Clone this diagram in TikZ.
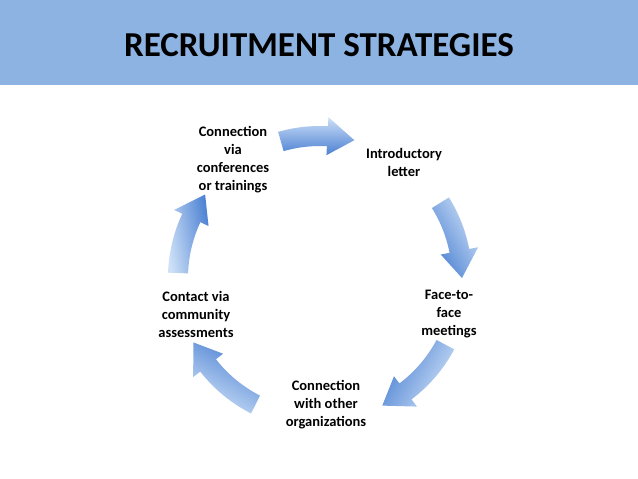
\documentclass[tikz,border=0pt]{standalone}
\usepackage{fontspec}
\setmainfont{Carlito}
\definecolor{lightb}{RGB}{205,224,247}
\definecolor{darkb}{RGB}{75,128,210}
\begin{document}
\begin{tikzpicture}[x=1pt,y=1pt,
  lbl/.style={font=\bfseries\fontsize{14.5}{18}\selectfont,align=center,text=black},
  barr/.style={left color=lightb,right color=darkb,draw=none}]
\useasboundingbox (0,0) rectangle (638,479);
\fill[white] (0,0) rectangle (638,479);
\fill[fill={rgb,255:red,141;green,179;blue,226}] (0,394) rectangle (638,479);
\node (title) at (319,434) {\bfseries\fontsize{35}{40}\selectfont RECRUITMENT STRATEGIES};
\coordinate (c) at (320,201);
\node[lbl] (n1) at (233,319) {Connection\\via\\conferences\\or trainings};
\node[lbl] (n2) at (404,317) {Introductory\\letter};
\node[lbl] (n3) at (449,165) {Face-to-\\face\\meetings};
\node[lbl] (n4) at (326,74) {Connection\\with other\\organizations};
\node[lbl] (n5) at (196,165) {Contact via\\community\\assessments};
\foreach \a/\b/\ang in {106/76/0, 32/0/-60, -28/-64/-120, -117/-153/150, 178/144/100}{
  \pgfmathsetmacro{\h}{\b+11}
  \path[barr,shading angle=\ang]
    ([shift={(c)}]\a:152) arc[start angle=\a,end angle=\h,radius=152]
    -- ([shift={(c)}]\h:161) -- ([shift={(c)}]\b:142) -- ([shift={(c)}]\h:123)
    -- ([shift={(c)}]\h:132) arc[start angle=\h,end angle=\a,radius=132] -- cycle;
}
\end{tikzpicture}
\end{document}
